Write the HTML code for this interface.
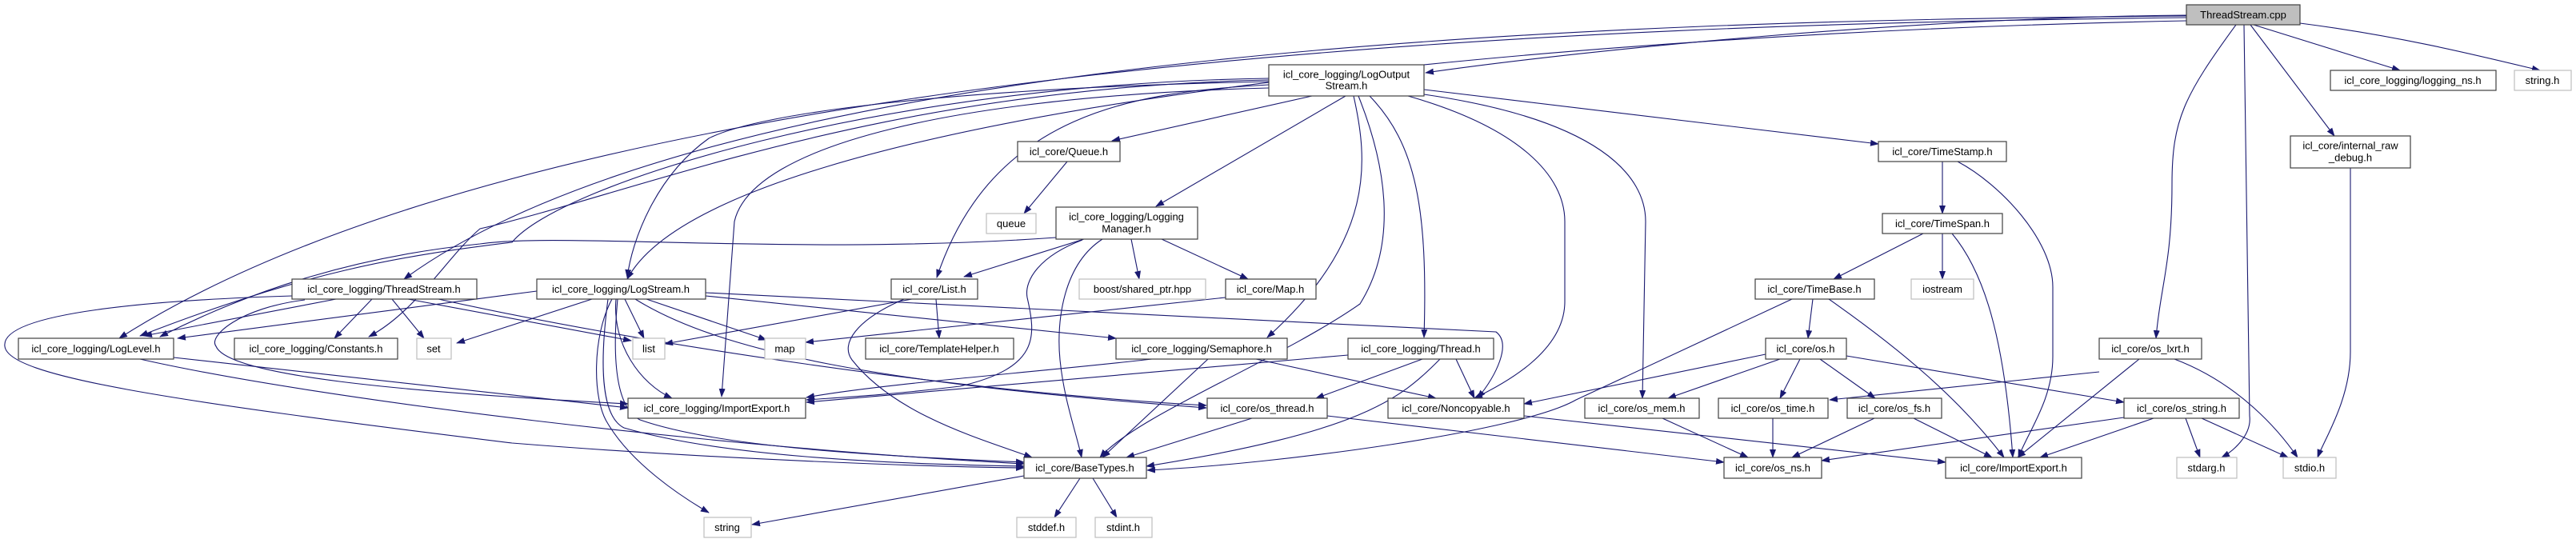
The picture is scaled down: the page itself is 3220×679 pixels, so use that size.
<!DOCTYPE html>
<html><head><meta charset="utf-8"><style>
html,body{margin:0;padding:0;background:#fff;}
svg{display:block;}
text{font-family:"Liberation Sans",sans-serif;font-size:13px;fill:#000;text-anchor:middle;dominant-baseline:central;}
.n{fill:#fff;stroke:#404040;stroke-width:1.2;}
.g{fill:#fff;stroke:#bfbfbf;stroke-width:1.2;}
.e{fill:none;stroke:#191970;stroke-width:1.1;marker-end:url(#a);}
</style></head><body>
<svg width="3220" height="679" viewBox="0 0 3220 679" xmlns="http://www.w3.org/2000/svg">
<defs><marker id="a" markerUnits="userSpaceOnUse" markerWidth="11" markerHeight="8" refX="10" refY="4" orient="auto"><path d="M0,0 L11,4 L0,8 z" fill="#191970"/></marker></defs>

<g>
<path class="e" d="M2733,19 C2400,22 2000,60 1782,91"/>
<path class="e" d="M2733,20 C2000,25 900,60 505,349"/>
<path class="e" d="M2733,22 C2000,30 700,70 149,423"/>
<path class="e" d="M2733,26 C2000,40 900,130 784,349"/>
<path class="e" d="M2817,31 L3000,88"/>
<path class="e" d="M2875,29 C3000,45 3100,70 3175,88"/>
<path class="e" d="M2813,31 L2918,170"/>
<path class="e" d="M2795,31 C2730,120 2715,150 2715,230 C2715,330 2700,360 2695,423"/>
<path class="e" d="M2805,31 L2812,520 C2815,545 2790,565 2777,572"/>
<path class="e" d="M2938,210 L2938,440 C2938,500 2905,550 2897,572"/>
<path class="e" d="M2718,449 C2800,480 2850,540 2872,572"/>
<path class="e" d="M2674,449 L2522,572"/>
<path class="e" d="M2624,465 L2287,500"/>
<path class="e" d="M2308,445 L2655,503"/>
<path class="e" d="M2692,523 L2550,572"/>
<path class="e" d="M2732,523 L2750,572"/>
<path class="e" d="M2752,523 L2860,572"/>
<path class="e" d="M2655,522 L2277,576"/>

<path class="e" d="M1780,112 L2348,180"/>
<path class="e" d="M1640,120 L1390,176"/>
<path class="e" d="M1682,120 L1445,258"/>
<path class="e" d="M1586,106 C1420,115 1240,140 1171,347"/>
<path class="e" d="M1586,102 C1200,110 950,140 886,173 C820,220 790,300 784,347"/>
<path class="e" d="M1586,98 C1100,105 700,230 640,303 C500,320 380,340 175,420"/>
<path class="e" d="M1586,100 C1100,110 800,240 600,286 C560,320 520,390 461,421"/>
<path class="e" d="M1586,110 C1200,120 940,180 918,277 L902,496"/>
<path class="e" d="M1692,120 C1710,200 1720,300 1584,422"/>
<path class="e" d="M1698,120 C1730,200 1750,300 1700,380 C1600,450 1420,520 1375,572"/>
<path class="e" d="M1712,120 C1770,180 1785,260 1780,422"/>
<path class="e" d="M1760,120 C1900,160 1956,220 1956,277 L1956,377 C1956,440 1880,480 1843,498"/>
<path class="e" d="M1780,118 C2000,150 2057,220 2057,277 L2053,498"/>

<path class="e" d="M420,374 L180,420"/>
<path class="e" d="M465,374 L418,423"/>
<path class="e" d="M490,374 L530,423"/>
<path class="e" d="M510,374 L789,426"/>
<path class="e" d="M548,374 C800,430 1200,490 1508,507"/>
<path class="e" d="M365,370 C200,375 0,390 6,433 C10,470 200,500 640,554 C900,575 1200,585 1280,585"/>
<path class="e" d="M381,375 C300,385 260,420 270,433 C285,470 500,490 785,505"/>
<path class="e" d="M217,447 L785,510"/>
<path class="e" d="M175,449 C400,500 900,560 1280,580"/>

<path class="e" d="M781,374 L805,423"/>
<path class="e" d="M808,374 L958,425"/>
<path class="e" d="M671,364 L222,423"/>
<path class="e" d="M740,374 L571,429"/>
<path class="e" d="M882,370 L1395,423"/>
<path class="e" d="M882,366 L1870,415 C1890,430 1870,470 1847,498"/>
<path class="e" d="M794,374 C900,440 1100,480 1508,510"/>
<path class="e" d="M770,374 C765,430 800,480 840,498"/>
<path class="e" d="M765,374 C740,420 740,500 760,530 C790,580 850,620 886,641"/>
<path class="e" d="M772,374 C765,450 770,510 800,525 C900,560 1100,570 1280,578"/>
<path class="e" d="M760,374 C750,450 750,520 780,535 C900,570 1100,580 1280,583"/>

<path class="e" d="M1140,374 L831,430"/>
<path class="e" d="M1170,374 L1174,423"/>
<path class="e" d="M1130,374 C1070,400 1050,430 1065,450 C1120,520 1230,550 1290,572"/>

<path class="e" d="M1355,299 L1205,346"/>
<path class="e" d="M1414,299 L1424,349"/>
<path class="e" d="M1452,299 L1560,349"/>
<path class="e" d="M1320,297 C1000,320 700,290 600,305 C450,320 320,360 200,421"/>
<path class="e" d="M1353,300 C1300,320 1280,350 1284,372 C1295,420 1300,460 1200,483 C1100,495 1050,497 1008,500"/>
<path class="e" d="M1378,299 C1330,330 1320,400 1325,450 C1330,500 1345,540 1352,572"/>

<path class="e" d="M1532,372 L1007,428"/>
<path class="e" d="M1334,202 L1280,267"/>
<path class="e" d="M1440,449 C1300,465 1100,480 1008,497"/>
<path class="e" d="M1510,449 L1378,572"/>
<path class="e" d="M1570,449 L1795,498"/>

<path class="e" d="M1778,449 L1645,498"/>
<path class="e" d="M1820,449 L1843,498"/>
<path class="e" d="M1800,449 C1750,500 1700,540 1433,583"/>
<path class="e" d="M1685,444 L1008,503"/>
<path class="e" d="M1565,523 L1408,572"/>
<path class="e" d="M1659,520 L2155,578"/>
<path class="e" d="M1905,520 L2432,578"/>

<path class="e" d="M1350,598 L1318,647"/>
<path class="e" d="M1366,598 L1396,647"/>
<path class="e" d="M1280,595 L940,656"/>

<path class="e" d="M2428,202 L2428,267"/>
<path class="e" d="M2447,202 C2500,230 2566,300 2566,359 L2566,446 C2566,500 2535,540 2523,572"/>
<path class="e" d="M2404,292 L2292,349"/>
<path class="e" d="M2428,292 L2428,349"/>
<path class="e" d="M2440,292 C2480,340 2505,420 2516,572"/>
<path class="e" d="M2266,374 L2260,423"/>
<path class="e" d="M2286,374 C2380,440 2450,500 2505,572"/>
<path class="e" d="M2240,374 L1970,500 C1900,540 1600,580 1434,588"/>
<path class="e" d="M2225,449 L2085,498"/>
<path class="e" d="M2250,449 L2225,498"/>
<path class="e" d="M2275,449 L2344,498"/>
<path class="e" d="M2207,443 L1905,505"/>
<path class="e" d="M2078,523 L2185,572"/>
<path class="e" d="M2216,523 L2216,572"/>
<path class="e" d="M2343,523 L2240,572"/>
<path class="e" d="M2392,523 L2490,572"/>
</g>

<rect x="2733" y="6" width="142" height="25" fill="#bfbfbf" stroke="#404040" stroke-width="1.2"/><text x="2804" y="18.5">ThreadStream.cpp</text>

<rect class="n" x="1586" y="81" width="194" height="39"/><text x="1683" y="93">icl_core_logging/LogOutput</text><text x="1683" y="107">Stream.h</text>
<rect class="n" x="2913" y="88" width="207" height="25"/><text x="3016" y="100.5">icl_core_logging/logging_ns.h</text>
<rect class="g" x="3143" y="88" width="71" height="25"/><text x="3178" y="100.5">string.h</text>
<rect class="n" x="2863" y="170" width="150" height="40"/><text x="2938" y="182">icl_core/internal_raw</text><text x="2938" y="197">_debug.h</text>
<rect class="n" x="1272" y="177" width="128" height="25"/><text x="1336" y="189.5">icl_core/Queue.h</text>
<rect class="n" x="2348" y="177" width="160" height="25"/><text x="2428" y="189.5">icl_core/TimeStamp.h</text>
<rect class="g" x="1233" y="267" width="62" height="25"/><text x="1264" y="279.5">queue</text>
<rect class="n" x="1320" y="259" width="177" height="40"/><text x="1408" y="271">icl_core_logging/Logging</text><text x="1408" y="286">Manager.h</text>
<rect class="n" x="2353" y="267" width="150" height="25"/><text x="2428" y="279.5">icl_core/TimeSpan.h</text>

<rect class="n" x="365" y="349" width="231" height="25"/><text x="480" y="361.5">icl_core_logging/ThreadStream.h</text>
<rect class="n" x="671" y="349" width="211" height="25"/><text x="776" y="361.5">icl_core_logging/LogStream.h</text>
<rect class="n" x="1114" y="349" width="108" height="25"/><text x="1168" y="361.5">icl_core/List.h</text>
<rect class="g" x="1349" y="349" width="158" height="25"/><text x="1428" y="361.5">boost/shared_ptr.hpp</text>
<rect class="n" x="1532" y="349" width="113" height="25"/><text x="1588" y="361.5">icl_core/Map.h</text>
<rect class="n" x="2194" y="349" width="149" height="25"/><text x="2268" y="361.5">icl_core/TimeBase.h</text>
<rect class="g" x="2389" y="349" width="78" height="25"/><text x="2428" y="361.5">iostream</text>

<rect class="n" x="23" y="423" width="194" height="26"/><text x="120" y="436">icl_core_logging/LogLevel.h</text>
<rect class="n" x="293" y="423" width="204" height="26"/><text x="395" y="436">icl_core_logging/Constants.h</text>
<rect class="g" x="521" y="423" width="43" height="26"/><text x="542" y="436">set</text>
<rect class="g" x="791" y="423" width="40" height="26"/><text x="811" y="436">list</text>
<rect class="g" x="956" y="423" width="51" height="26"/><text x="981" y="436">map</text>
<rect class="n" x="1082" y="423" width="185" height="26"/><text x="1174" y="436">icl_core/TemplateHelper.h</text>
<rect class="n" x="1395" y="423" width="214" height="26"/><text x="1502" y="436">icl_core_logging/Semaphore.h</text>
<rect class="n" x="1685" y="423" width="182" height="26"/><text x="1776" y="436">icl_core_logging/Thread.h</text>
<rect class="n" x="2207" y="423" width="101" height="26"/><text x="2257" y="436">icl_core/os.h</text>
<rect class="n" x="2624" y="423" width="128" height="26"/><text x="2688" y="436">icl_core/os_lxrt.h</text>

<rect class="n" x="785" y="498" width="222" height="25"/><text x="896" y="510.5">icl_core_logging/ImportExport.h</text>
<rect class="n" x="1509" y="498" width="150" height="25"/><text x="1584" y="510.5">icl_core/os_thread.h</text>
<rect class="n" x="1735" y="498" width="170" height="25"/><text x="1820" y="510.5">icl_core/Noncopyable.h</text>
<rect class="n" x="1981" y="498" width="143" height="25"/><text x="2052" y="510.5">icl_core/os_mem.h</text>
<rect class="n" x="2148" y="498" width="137" height="25"/><text x="2216" y="510.5">icl_core/os_time.h</text>
<rect class="n" x="2309" y="498" width="118" height="25"/><text x="2368" y="510.5">icl_core/os_fs.h</text>
<rect class="n" x="2655" y="498" width="144" height="25"/><text x="2727" y="510.5">icl_core/os_string.h</text>

<rect class="n" x="1280" y="572" width="153" height="26"/><text x="1356" y="585">icl_core/BaseTypes.h</text>
<rect class="n" x="2155" y="572" width="122" height="26"/><text x="2216" y="585">icl_core/os_ns.h</text>
<rect class="n" x="2432" y="572" width="170" height="26"/><text x="2517" y="585">icl_core/ImportExport.h</text>
<rect class="g" x="2721" y="572" width="75" height="26"/><text x="2758" y="585">stdarg.h</text>
<rect class="g" x="2854" y="572" width="66" height="26"/><text x="2887" y="585">stdio.h</text>

<rect class="g" x="880" y="647" width="59" height="25"/><text x="909" y="659.5">string</text>
<rect class="g" x="1271" y="647" width="74" height="25"/><text x="1308" y="659.5">stddef.h</text>
<rect class="g" x="1369" y="647" width="71" height="25"/><text x="1404" y="659.5">stdint.h</text>
</svg>
</body></html>
